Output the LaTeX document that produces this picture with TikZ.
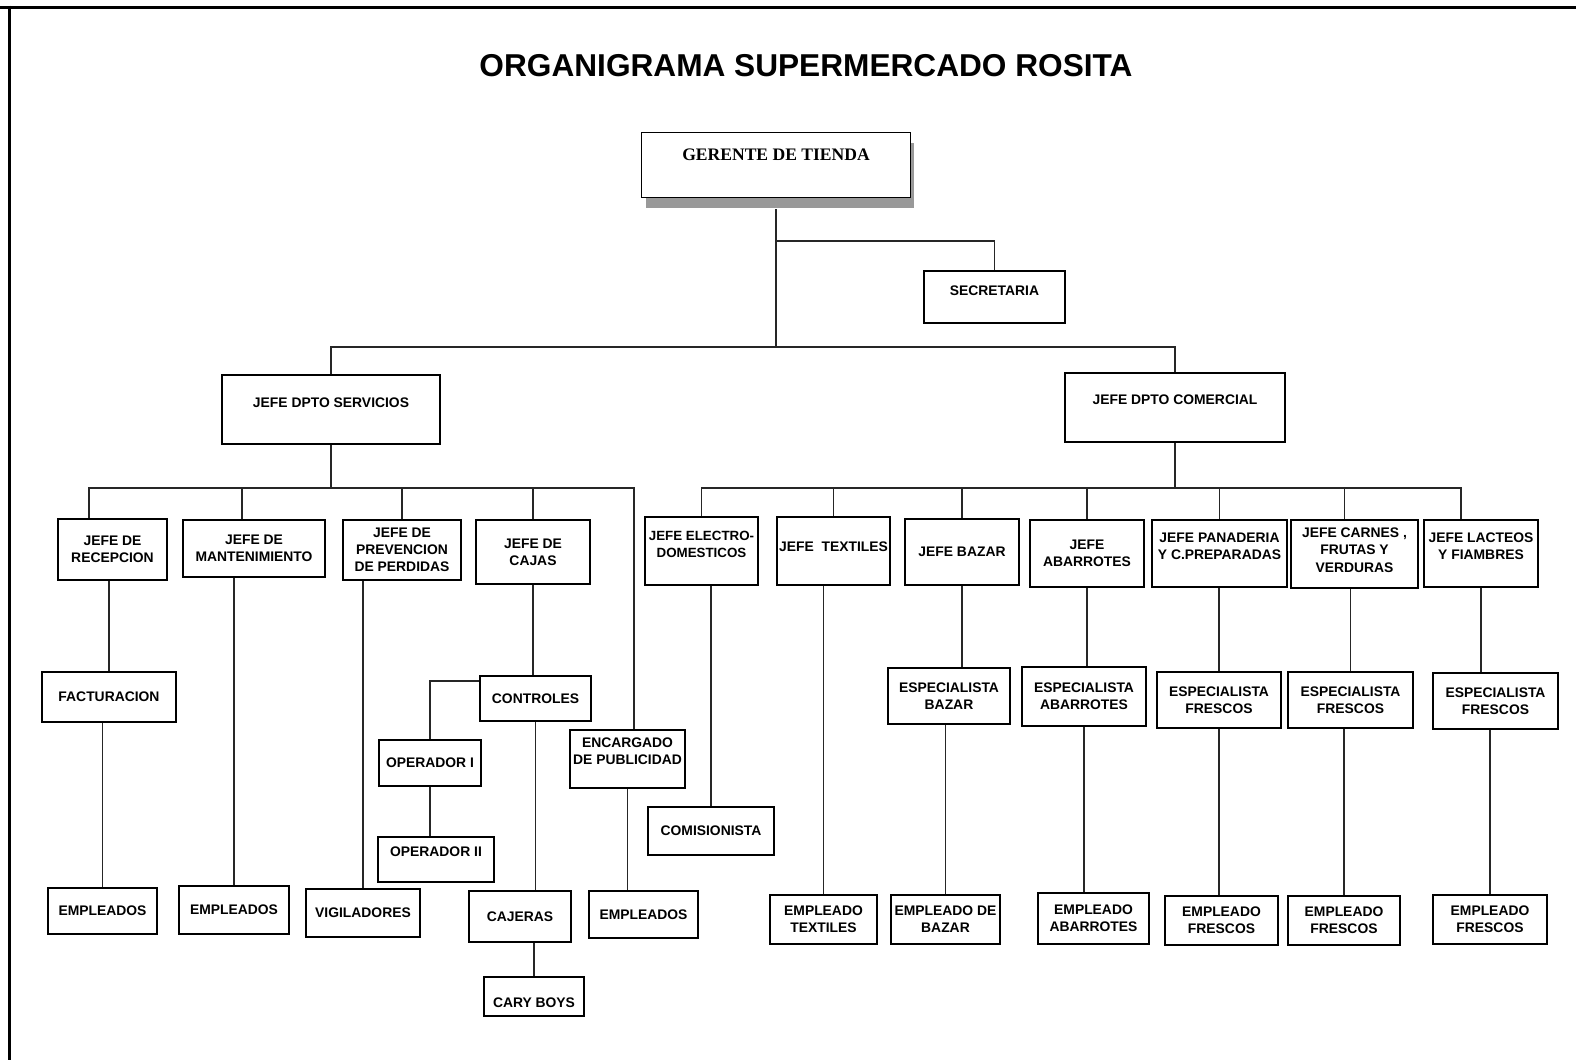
\documentclass[tikz,border=0pt]{standalone}
\usepackage{fontspec}
\setmainfont{Liberation Sans}
\newfontfamily\serifbold{Liberation Serif}
\usetikzlibrary{shadows}

\begin{document}
\begin{tikzpicture}[
    x=0.02cm, y=-0.02cm,
    box/.style={rectangle, draw, line width=0.9pt, inner sep=1pt, align=center, font=\bfseries\fontsize{7.9}{9.8}\selectfont},
    conn/.style={draw=black!85, line width=0.7pt},
    frame/.style={line width=0.06cm},
    lift/.style={text depth=#1}
]
\useasboundingbox (0,0) rectangle (1576,1060);

% Page frame
\draw[frame] (0,7.2) -- (1576,7.2);
\draw[frame] (9.7,5.7) -- (9.7,1060);

% Title
\node[font=\bfseries\fontsize{18}{22}\selectfont] (title) at (806,66) {ORGANIGRAMA SUPERMERCADO ROSITA};

% Management
\node[box, fill=white, minimum width=5.38cm, minimum height=1.30cm, lift=0.4cm,
      font=\serifbold\bfseries\fontsize{10}{12}\selectfont,
      drop shadow={shadow xshift=0.08cm, shadow yshift=-0.22cm, fill=black!40, opacity=1}] (ger) at (776,165) {GERENTE DE TIENDA};
\node[box, minimum width=2.82cm, minimum height=1.04cm, lift=0.26cm] (sec) at (994.5,297) {SECRETARIA};
\node[box, minimum width=4.36cm, minimum height=1.38cm, lift=0.26cm] (serv) at (331,409.5) {JEFE DPTO SERVICIOS};
\node[box, minimum width=4.40cm, minimum height=1.38cm, lift=0.3cm] (com) at (1175,407.5) {JEFE DPTO COMERCIAL};

% Services department
\node[box, minimum width=2.18cm, minimum height=1.22cm] (recep) at (112.5,549.5) {JEFE DE\\RECEPCION};
\node[box, minimum width=2.84cm, minimum height=1.14cm] (mant) at (254,548.5) {JEFE DE\\MANTENIMIENTO};
\node[box, minimum width=2.36cm, minimum height=1.20cm] (prev) at (402,550) {JEFE DE\\PREVENCION\\DE PERDIDAS};
\node[box, minimum width=2.28cm, minimum height=1.28cm] (cajas) at (533,552) {JEFE DE\\CAJAS};
\node[box, minimum width=2.68cm, minimum height=1.00cm] (factur) at (109,697) {FACTURACION};
\node[box, minimum width=2.22cm, minimum height=0.90cm] (control) at (535.5,698.5) {CONTROLES};
\node[box, minimum width=2.04cm, minimum height=0.92cm] (op1) at (430,763) {OPERADOR I};
\node[box, minimum width=2.32cm, minimum height=0.90cm, lift=0.32cm] (op2) at (436,859.5) {OPERADOR II};
\node[box, minimum width=2.30cm, minimum height=1.16cm, lift=0.32cm] (encarg) at (627.5,759) {ENCARGADO\\DE PUBLICIDAD};
\node[box, minimum width=2.18cm, minimum height=0.92cm] (emp1) at (102.5,911) {EMPLEADOS};
\node[box, minimum width=2.20cm, minimum height=0.96cm] (emp2) at (234,910) {EMPLEADOS};
\node[box, minimum width=2.28cm, minimum height=0.96cm] (vigil) at (363,913) {VIGILADORES};
\node[box, minimum width=2.04cm, minimum height=1.02cm] (cajeras) at (520,916.5) {CAJERAS};
\node[box, minimum width=2.18cm, minimum height=0.94cm] (emp3) at (643.5,914.5) {EMPLEADOS};
\node[box, minimum width=2.00cm, minimum height=0.78cm, text height=0.46cm] (cary) at (534,996.5) {CARY BOYS};

% Commercial department
\node[box, minimum width=2.26cm, minimum height=1.36cm, lift=0.28cm, inner xsep=0pt,
      font=\bfseries\fontsize{7.6}{9.8}\selectfont] (electro) at (701.5,551) {JEFE ELECTRO-\\DOMESTICOS};
\node[box, minimum width=2.26cm, minimum height=1.36cm, lift=0.16cm] (textiles) at (833.5,551) {JEFE\ \ TEXTILES};
\node[box, minimum width=2.28cm, minimum height=1.32cm] (bazar) at (962,552) {JEFE BAZAR};
\node[box, minimum width=2.28cm, minimum height=1.34cm] (abarr) at (1087,553.5) {JEFE\\ABARROTES};
\node[box, minimum width=2.70cm, minimum height=1.34cm, lift=0.28cm] (pan) at (1219.5,553.5) {JEFE PANADERIA\\Y C.PREPARADAS};
\node[box, minimum width=2.54cm, minimum height=1.36cm, lift=0.16cm] (carnes) at (1354.5,554) {JEFE CARNES ,\\FRUTAS Y\\VERDURAS};
\node[box, minimum width=2.28cm, minimum height=1.34cm, lift=0.28cm] (lac) at (1481,553.5) {JEFE LACTEOS\\Y FIAMBRES};
\node[box, minimum width=2.52cm, minimum height=0.96cm] (comis) at (711,831) {COMISIONISTA};
\node[box, minimum width=2.44cm, minimum height=1.12cm] (espbaz) at (949,696) {ESPECIALISTA\\BAZAR};
\node[box, minimum width=2.48cm, minimum height=1.18cm] (espabr) at (1084,696.5) {ESPECIALISTA\\ABARROTES};
\node[box, minimum width=2.48cm, minimum height=1.12cm] (esppan) at (1219,700) {ESPECIALISTA\\FRESCOS};
\node[box, minimum width=2.50cm, minimum height=1.12cm] (espcar) at (1350.5,700) {ESPECIALISTA\\FRESCOS};
\node[box, minimum width=2.50cm, minimum height=1.12cm] (esplac) at (1495.5,701) {ESPECIALISTA\\FRESCOS};
\node[box, minimum width=2.14cm, minimum height=0.98cm] (emptex) at (823.5,919.5) {EMPLEADO\\TEXTILES};
\node[box, minimum width=2.18cm, minimum height=0.98cm] (empbaz) at (945.5,919.5) {EMPLEADO DE\\BAZAR};
\node[box, minimum width=2.22cm, minimum height=1.02cm] (empabr) at (1093.5,918.5) {EMPLEADO\\ABARROTES};
\node[box, minimum width=2.26cm, minimum height=0.98cm] (emppan) at (1221.5,920.5) {EMPLEADO\\FRESCOS};
\node[box, minimum width=2.24cm, minimum height=0.98cm] (empcar) at (1344,920.5) {EMPLEADO\\FRESCOS};
\node[box, minimum width=2.28cm, minimum height=0.98cm] (emplac) at (1490,919.5) {EMPLEADO\\FRESCOS};

% Connections from the manager
\coordinate (secJoint) at (776,241);
\coordinate (busTop) at (776,347);
\draw[conn] ([yshift=-0.22cm]ger.south) -- (busTop);
\draw[conn] (secJoint) -| (sec.north);
\draw[conn] (serv.north) |- (busTop) -| (com.north);

% Connections in services
\coordinate (busS) at (331,488);
\draw[conn] (serv.south) -- (busS);
\draw[conn] ([xshift=-0.47cm]recep.north) |- (busS);
\draw[conn] ([xshift=-0.24cm]mant.north) |- (busS);
\draw[conn] (prev.north) |- (busS);
\draw[conn] (cajas.north) |- (busS);
\draw[conn] ([xshift=0.13cm]encarg.north) |- (busS);
\draw[conn] (recep.south -| factur.north) -- (factur.north);
\draw[conn] (factur.south -| emp1.north) -- (emp1.north);
\draw[conn] (mant.south -| emp2.north) -- (emp2.north);
\draw[conn] (prev.south -| vigil.north) -- (vigil.north);
\draw[conn] (cajas.south) -- (cajas.south |- control.north);
\draw[conn] ([yshift=0.35cm]control.west) -| (op1.north);
\draw[conn] (op1.south) -- (op1.south |- op2.north);
\draw[conn] (control.south) -- (control.south |- cajeras.north);
\draw[conn] (cajeras.south -| cary.north) -- (cary.north);
\draw[conn] (encarg.south) -- (encarg.south |- emp3.north);

% Connections in commercial
\coordinate (busC) at (1175,488);
\draw[conn] (com.south) -- (busC);
\draw[conn] (electro.north) |- (busC);
\draw[conn] (textiles.north) |- (busC);
\draw[conn] (bazar.north) |- (busC);
\draw[conn] (abarr.north) |- (busC);
\draw[conn] (pan.north) |- (busC);
\draw[conn] ([xshift=-0.2cm]carnes.north) |- (busC);
\draw[conn] ([xshift=-0.4cm]lac.north) |- (busC);
\draw[conn] (electro.south -| comis.north) -- (comis.north);
\draw[conn] (textiles.south -| emptex.north) -- (emptex.north);
\draw[conn] (bazar.south) -- (bazar.south |- espbaz.north);
\draw[conn] (espbaz.south -| empbaz.north) -- (empbaz.north);
\draw[conn] (abarr.south) -- (abarr.south |- espabr.north);
\draw[conn] (espabr.south) -- (espabr.south |- empabr.north);
\draw[conn] (pan.south -| esppan.north) -- (esppan.north);
\draw[conn] (esppan.south) -- (esppan.south |- emppan.north);
\draw[conn] (carnes.south -| espcar.north) -- (espcar.north);
\draw[conn] (espcar.south -| empcar.north) -- (empcar.north);
\draw[conn] (lac.south) -- (lac.south |- esplac.north);
\draw[conn] (esplac.south -| emplac.north) -- (emplac.north);

\end{tikzpicture}
\end{document}
